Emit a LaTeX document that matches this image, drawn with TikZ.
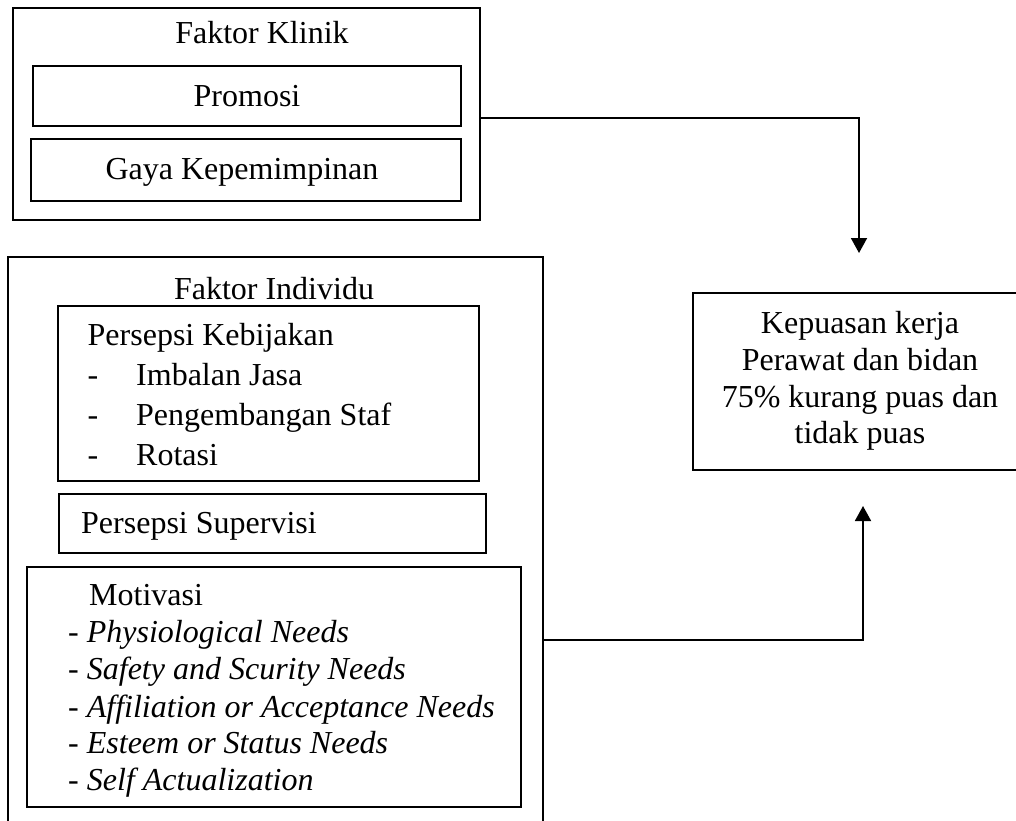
\documentclass[tikz,border=0pt]{standalone}
\usepackage{fontspec}
\setmainfont{Liberation Serif}
\usetikzlibrary{arrows.meta}
\begin{document}
\begin{tikzpicture}[x=1pt,y=-1pt,
  box/.style={draw, line width=1.8pt, rectangle, inner sep=0pt},
  txt/.style={inner sep=0pt, font=\fontsize{32}{37}\selectfont},
  ltxt/.style={txt, anchor=base west},
  ctxt/.style={txt, anchor=base},
  itxt/.style={txt, anchor=base west, font=\fontsize{32}{37}\selectfont\itshape},
  conn/.style={line width=1.8pt},
  arr/.style={conn, -{Triangle[length=15pt,width=16pt]}}]
\useasboundingbox (0,0) rectangle (1016,820);
\clip (0,0) rectangle (1016,820);

% Faktor Klinik
\node[box, minimum width=467pt, minimum height=212pt] (klinik) at (246.5,114) {};
\node[ctxt] (tklinik) at (262,43) {Faktor Klinik};
\node[box, minimum width=428pt, minimum height=60pt] (promosi) at (247,96) {};
\node[ctxt] (tpromosi) at (247,106) {Promosi};
\node[box, minimum width=430pt, minimum height=62pt] (gaya) at (246,170) {};
\node[ctxt] (tgaya) at (242,179) {Gaya Kepemimpinan};

% Faktor Individu
\node[box, minimum width=535pt, minimum height=580pt] (indiv) at (275.5,547) {};
\node[ctxt] (tindiv) at (274,299) {Faktor Individu};

\node[box, minimum width=421pt, minimum height=175pt] (kebij) at (268.5,393.5) {};
\node[ltxt] (tkebij) at (87.5,345) {Persepsi Kebijakan};
\node[ltxt] (d1) at (87.5,385) {-};
\node[ltxt] (k1) at (136,385) {Imbalan Jasa};
\node[ltxt] (d2) at (87.5,425) {-};
\node[ltxt] (k2) at (136,425) {Pengembangan Staf};
\node[ltxt] (d3) at (87.5,465) {-};
\node[ltxt] (k3) at (136,465) {Rotasi};

\node[box, minimum width=427pt, minimum height=59pt] (superv) at (272.5,523.5) {};
\node[ltxt] (tsuperv) at (81,533) {Persepsi Supervisi};

\node[box, minimum width=494pt, minimum height=240pt] (motiv) at (274,687) {};
\node[ltxt] (tmotiv) at (89,605) {Motivasi};
\node[itxt] (m1) at (68,642) {- Physiological Needs};
\node[itxt] (m2) at (68,679) {- Safety and Scurity Needs};
\node[itxt] (m3) at (68,717) {- Affiliation or Acceptance Needs};
\node[itxt] (m4) at (68,753) {- Esteem or Status Needs};
\node[itxt] (m5) at (68,790) {- Self Actualization};

% Kepuasan
\node[box, minimum width=332pt, minimum height=177pt] (kep) at (859,381.5) {};
\node[ctxt] (kp1) at (860,333) {Kepuasan kerja};
\node[ctxt] (kp2) at (860,370) {Perawat dan bidan};
\node[ctxt] (kp3) at (860,407) {75\% kurang puas dan};
\node[ctxt] (kp4) at (860,443) {tidak puas};

% connectors
\coordinate (j1) at (859,118);
\coordinate (e1) at (859,253);
\coordinate (j2) at (863,640);
\coordinate (e2) at (863,506);
\draw[arr] (klinik.east |- j1) -- (j1) -- (e1);
\draw[arr] (indiv.east |- j2) -- (j2) -- (e2);
\end{tikzpicture}
\end{document}
